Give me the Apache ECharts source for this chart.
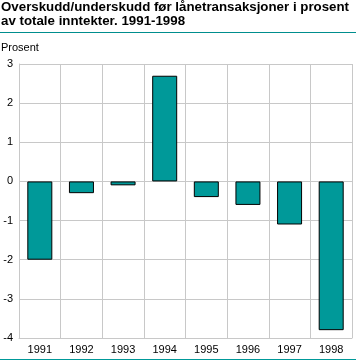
<!DOCTYPE html>
<html><head><meta charset="utf-8">
<script src="https://cdn.jsdelivr.net/npm/echarts@6/dist/echarts.min.js"></script>
<style>html,body{margin:0;padding:0;background:#fff}#c{width:356px;height:361px}</style>
</head><body><div id="c"></div>
<script>
const categories = ['1991','1992','1993','1994','1995','1996','1997','1998'];
const values = [-2.0, -0.3, -0.1, 2.7, -0.4, -0.6, -1.1, -3.8];
const yTicks = {min: -4, max: 3, interval: 1};
const titleLines = ['Overskudd/underskudd før lånetransaksjoner i prosent', 'av totale inntekter. 1991-1998'];
const unitLabel = 'Prosent';

const chart = echarts.init(document.getElementById('c'), null, {renderer: 'canvas'});
chart.setOption({
  animation: false,
  backgroundColor: '#fff',
  title: {
    text: titleLines.join('\n'),
    left: 1, top: 0, padding: 0,
    textStyle: {fontFamily: 'Liberation Sans', fontWeight: 'bold', fontSize: 13.3, lineHeight: 14, color: '#000'}
  },
  graphic: [
    {type: 'line', shape: {x1: 0, y1: 32.5, x2: 356, y2: 32.5}, style: {stroke: '#008e8e', lineWidth: 1}},
    {type: 'line', shape: {x1: 0, y1: 359.5, x2: 356, y2: 359.5}, style: {stroke: '#009999', lineWidth: 1}},
    {type: 'text', left: 1, top: 42, style: {text: unitLabel, font: '11px "Liberation Sans"', fill: '#000'}}
  ],
  grid: {left: 19, right: 4, top: 64, bottom: 23, containLabel: false},
  xAxis: {
    type: 'category', data: categories, boundaryGap: true,
    axisLine: {show: true, onZero: false, lineStyle: {color: '#c8c8c8'}},
    axisTick: {show: false},
    axisLabel: {color: '#000', fontFamily: 'Liberation Sans', fontSize: 11, margin: 6},
    splitLine: {show: true, lineStyle: {color: '#c8c8c8', width: 1}}
  },
  yAxis: {
    type: 'value', min: yTicks.min, max: yTicks.max, interval: yTicks.interval,
    axisLine: {show: true, lineStyle: {color: '#c8c8c8'}},
    axisTick: {show: false},
    axisLabel: {color: '#000', fontFamily: 'Liberation Sans', fontSize: 11, margin: 6},
    splitLine: {show: true, lineStyle: {color: '#c8c8c8', width: 1}}
  },
  series: [{
    type: 'bar', data: values, barWidth: 25,
    itemStyle: {color: '#009999', borderColor: '#000', borderWidth: 1}
  }]
});
</script></body></html>
